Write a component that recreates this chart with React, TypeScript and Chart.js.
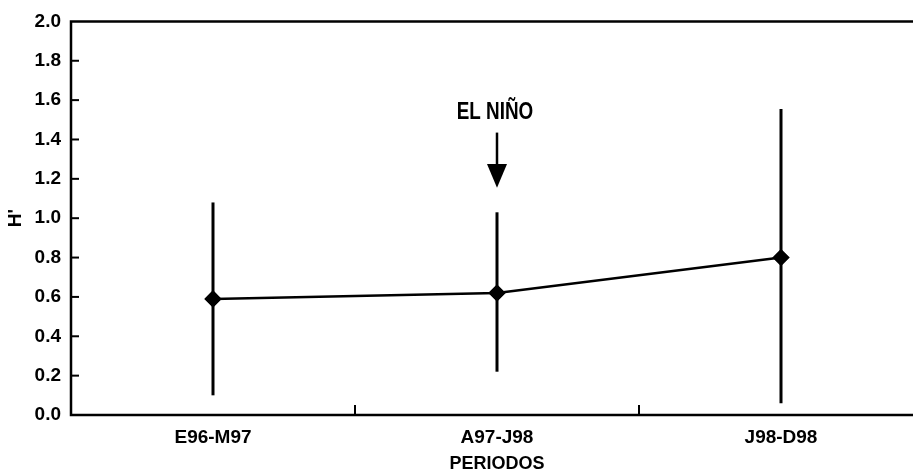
import React, { useEffect, useRef } from "react";
import { Chart, registerables } from "chart.js";

Chart.register(...registerables);

const categories = ["E96-M97", "A97-J98", "J98-D98"];
const meanH = [0.59, 0.62, 0.80];
const lowerH = [0.10, 0.22, 0.06];
const upperH = [1.08, 1.03, 1.555];
const yTicks = [0, 0.2, 0.4, 0.6, 0.8, 1.0, 1.2, 1.4, 1.6, 1.8, 2.0];
const annotationText = "EL NIÑO";
const annotationCategory = 1;
const annotationTextY = 1.505;
const arrowTopY = 1.435;
const arrowHeadY = 1.275;
const arrowTipY = 1.155;

const FONT = "'Liberation Sans', Arial, sans-serif";

const customPlugin = {
  id: "custom",
  afterDatasetsDraw(chart: any) {
    const ctx = chart.ctx;
    const x = chart.scales.x;
    const y = chart.scales.y;
    const ca = chart.chartArea;
    ctx.save();
    // error bars
    ctx.strokeStyle = "#000";
    ctx.lineWidth = 3;
    for (let i = 0; i < categories.length; i++) {
      const px = x.getPixelForValue(i);
      ctx.beginPath();
      ctx.moveTo(px, y.getPixelForValue(lowerH[i]));
      ctx.lineTo(px, y.getPixelForValue(upperH[i]));
      ctx.stroke();
    }
    // frame
    ctx.lineWidth = 2.5;
    ctx.beginPath();
    ctx.moveTo(ca.right, ca.top);
    ctx.lineTo(ca.left, ca.top);
    ctx.lineTo(ca.left, ca.bottom);
    ctx.lineTo(ca.right, ca.bottom);
    ctx.stroke();
    // y ticks inward
    ctx.lineWidth = 2;
    for (const v of yTicks) {
      if (v === 0 || v === 2) continue;
      const py = y.getPixelForValue(v);
      ctx.beginPath();
      ctx.moveTo(ca.left, py);
      ctx.lineTo(ca.left + 8, py);
      ctx.stroke();
    }
    // x ticks (category boundaries) inward
    for (let i = 0; i < categories.length - 1; i++) {
      const px = (x.getPixelForValue(i) + x.getPixelForValue(i + 1)) / 2;
      ctx.beginPath();
      ctx.moveTo(px, ca.bottom);
      ctx.lineTo(px, ca.bottom - 10);
      ctx.stroke();
    }
    // annotation
    const ax = x.getPixelForValue(annotationCategory);
    ctx.fillStyle = "#000";
    ctx.save();
    ctx.translate(ax - 2, y.getPixelForValue(annotationTextY));
    ctx.scale(0.82, 1);
    ctx.font = "bold 23px " + FONT;
    ctx.textAlign = "center";
    ctx.textBaseline = "alphabetic";
    ctx.fillText(annotationText, 0, 0);
    ctx.restore();
    ctx.lineWidth = 2.5;
    ctx.beginPath();
    ctx.moveTo(ax, y.getPixelForValue(arrowTopY));
    ctx.lineTo(ax, y.getPixelForValue(arrowHeadY));
    ctx.stroke();
    ctx.beginPath();
    const hy = y.getPixelForValue(arrowHeadY);
    ctx.moveTo(ax - 10, hy);
    ctx.lineTo(ax + 10, hy);
    ctx.lineTo(ax, y.getPixelForValue(arrowTipY));
    ctx.closePath();
    ctx.fill();
    ctx.restore();
  },
};

export default function App() {
  const ref = useRef<HTMLCanvasElement>(null);
  useEffect(() => {
    if (!ref.current) return;
    const chart = new Chart(ref.current, {
      type: "line",
      data: {
        labels: categories,
        datasets: [
          {
            data: meanH,
            borderColor: "#000",
            borderWidth: 2.5,
            backgroundColor: "#000",
            pointStyle: "rectRot",
            pointRadius: 7,
            pointBackgroundColor: "#000",
            pointBorderColor: "#000",
            tension: 0,
          },
        ],
      },
      options: {
        responsive: false,
        animation: false,
        layout: { padding: { top: 20, right: 17, left: 0, bottom: 0 } },
        plugins: { legend: { display: false }, tooltip: { enabled: false } },
        scales: {
          x: {
            offset: true,
            grid: { display: false, drawTicks: false },
            border: { display: false },
            ticks: {
              color: "#000",
              padding: 11,
              font: { family: FONT, size: 19, weight: "bold" },
            },
            title: {
              display: true,
              text: "PERIODOS",
              color: "#000",
              padding: { top: 9, bottom: 0 },
              font: { family: FONT, size: 18, weight: "bold", lineHeight: 0.9 },
            },
            afterFit: (s: any) => {
              s.height = 57;
            },
          },
          y: {
            min: 0,
            max: 2,
            grid: { display: false, drawTicks: false },
            border: { display: false },
            ticks: {
              stepSize: 0.2,
              color: "#000",
              padding: 10,
              font: { family: FONT, size: 19, weight: "bold" },
              callback: (v: any) => Number(v).toFixed(1),
            },
            title: {
              display: true,
              text: "H'",
              color: "#000",
              padding: { top: 4, bottom: 0 },
              font: { family: FONT, size: 19, weight: "bold" },
            },
            afterFit: (s: any) => {
              s.width = 71;
            },
          },
        },
      },
      plugins: [customPlugin],
    });
    return () => chart.destroy();
  }, []);
  return (
    <div
      style={{
        position: "absolute",
        left: 0,
        top: 0,
        width: 913,
        height: 472,
        overflow: "hidden",
        background: "#fff",
      }}
    >
      <canvas ref={ref} width={940} height={472} style={{ display: "block" }} />
    </div>
  );
}
